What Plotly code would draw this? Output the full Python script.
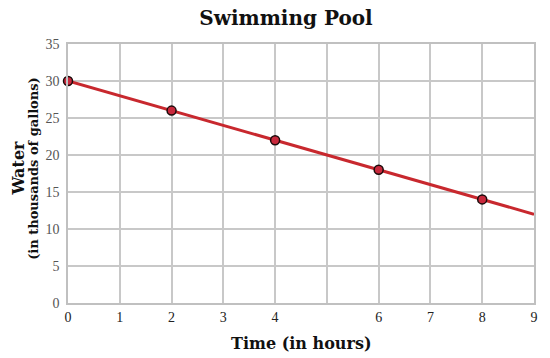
import plotly.graph_objects as go

line_x = [0, 9]
line_y = [30, 12]
point_x = [0, 2, 4, 6, 8]
point_y = [30, 26, 22, 18, 14]
x_tick_vals = [0, 1, 2, 3, 4, 5, 6, 7, 8, 9]
x_tick_text = ["0", "1", "2", "3", "4", "", "6", "7", "8", "9"]
y_tick_vals = [0, 5, 10, 15, 20, 25, 30, 35]

fig = go.Figure()
fig.add_trace(go.Scatter(x=line_x, y=line_y, mode="lines",
                         line=dict(color="#c8282e", width=3), hoverinfo="skip",
                         cliponaxis=False))
fig.add_trace(go.Scatter(x=point_x, y=point_y, mode="markers", cliponaxis=False,
                         marker=dict(color="#c8283c", size=9,
                                     line=dict(color="#1a0a0a", width=1.5))))

serif = "DejaVu Serif"
fig.update_layout(
    width=550, height=358,
    margin=dict(l=68, r=13, t=44, b=55),
    plot_bgcolor="white", paper_bgcolor="white",
    showlegend=False,
    title=dict(text="<b>Swimming Pool</b>", x=0.52, xanchor="center",
               y=0.95, yanchor="middle",
               font=dict(family="DejaVu Serif", size=20, color="#111")),
    xaxis=dict(range=[0, 9], tickvals=x_tick_vals, ticktext=x_tick_text,
               showgrid=True, gridcolor="#c8c8c8", gridwidth=1.5,
               showline=True, linecolor="#c0c0c0", linewidth=1.5, mirror=True,
               zeroline=False, ticks="",
               tickfont=dict(family="Liberation Serif", size=14, color="#222")),
    yaxis=dict(range=[0, 35], tickvals=y_tick_vals,
               showgrid=True, gridcolor="#c8c8c8", gridwidth=1.5,
               showline=True, linecolor="#c0c0c0", linewidth=1.5, mirror=True,
               zeroline=False, ticks="", ticklabelstandoff=4,
               tickfont=dict(family="Liberation Serif", size=14, color="#555")),
    annotations=[
        dict(text="<b>Time (in hours)</b>", xref="paper", yref="paper",
             x=0.5, y=-0.158, xanchor="center", yanchor="middle", showarrow=False,
             font=dict(family=serif, size=16, color="#111")),
        dict(text="<b>Water</b>", xref="paper", yref="paper", textangle=-90,
             x=-0.107, y=0.52, xanchor="center", yanchor="middle", showarrow=False,
             font=dict(family=serif, size=16, color="#111")),
        dict(text="<b>(in thousands of gallons)</b>", xref="paper", yref="paper", textangle=-90,
             x=-0.074, y=0.52, xanchor="center", yanchor="middle", showarrow=False,
             font=dict(family=serif, size=13, color="#111")),
    ],
)
fig.write_html("out.html")
